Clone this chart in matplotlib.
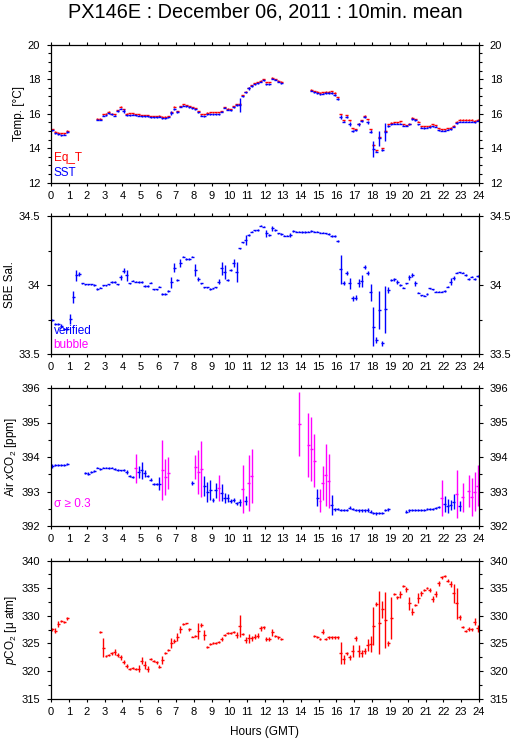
import numpy as np
import matplotlib
matplotlib.use('Agg')
import matplotlib.pyplot as plt
from matplotlib.ticker import MultipleLocator, FuncFormatter

plt.rcParams['font.family'] = ['Liberation Sans', 'DejaVu Sans']
plt.rcParams['mathtext.fontset'] = 'custom'
plt.rcParams['mathtext.rm'] = 'Liberation Sans'
plt.rcParams['mathtext.it'] = 'Liberation Sans:italic'

N = float('nan')

# 10-minute bins over the day (start minute of each bin)
bin_minutes = np.arange(0, 1440, 10)

# ---------------- Temperature ----------------
eq_t = [15.10, 14.95, 14.90, 14.88, 14.88, 15.00,
        N, N, N, N, N, N,
        N, N, N, 15.72, 15.72, 15.96,
        16.00, 16.11, 16.00, 15.96, 16.19, 16.40,
        16.25, 16.00, 16.02, 16.02, 15.98, 15.98,
        15.92, 15.92, 15.92, 15.86, 15.86, 15.86,
        15.88, 15.82, 15.82, 15.86, 16.07, 16.40,
        16.15, 16.44, 16.54, 16.50, 16.44, 16.38,
        16.31, 16.15, 15.98, 15.96, 16.04, 16.08,
        16.08, 16.08, 16.08, 16.15, 16.38, 16.30,
        16.27, 16.42, 16.56, 16.58, 17.08, 17.27,
        17.50, 17.66, 17.76, 17.82, 17.91, 18.00,
        17.82, 17.82, 18.09, 18.00, 17.91, 17.85,
        N, N, N, N, N, N,
        N, N, N, 17.39, 17.31, 17.27,
        17.20, 17.23, 17.27, 17.27, 17.29, 17.20,
        16.95, 15.96, 15.61, 15.90, 15.61, 15.15,
        15.11, 15.42, 15.61, 15.88, 15.67, 15.09,
        14.18, 13.87, 14.63, 14.00, 15.00, 15.38,
        15.46, 15.50, 15.50, 15.55, 15.38, 15.34,
        15.42, 15.77, 15.69, 15.53, 15.28, 15.26,
        15.26, 15.30, 15.38, 15.34, 15.15, 15.11,
        15.09, 15.15, 15.19, 15.30, 15.53, 15.65,
        15.65, 15.65, 15.65, 15.65, 15.59, 15.65]

eq_t_std = [.03, .03, .03, .03, .03, .03,
            0, 0, 0, 0, 0, 0,
            0, 0, 0, .03, .03, .03,
            .03, .03, .03, .03, .03, .04,
            .03, .03, .03, .03, .03, .03,
            .03, .03, .03, .03, .03, .03,
            .03, .03, .03, .03, .04, .04,
            .03, .03, .03, .03, .03, .03,
            .03, .03, .03, .03, .03, .03,
            .03, .03, .03, .03, .03, .03,
            .03, .03, .03, .03, .03, .03,
            .03, .03, .03, .03, .03, .03,
            .03, .03, .03, .03, .03, .03,
            0, 0, 0, 0, 0, 0,
            0, 0, 0, .03, .03, .03,
            .03, .03, .03, .03, .03, .03,
            .03, .04, .03, .04, .03, .03,
            .03, .03, .03, .04, .03, .03,
            .04, .03, .04, .03, .04, .03,
            .03, .03, .03, .03, .03, .03,
            .03, .03, .03, .03, .03, .03,
            .03, .03, .03, .03, .03, .03,
            .03, .03, .03, .03, .03, .03,
            .03, .03, .03, .03, .03, .03]

sst = [15.05, 14.88, 14.80, 14.75, 14.78, 14.95,
       N, N, N, N, N, N,
       N, N, N, 15.65, 15.65, 15.88,
       15.92, 16.02, 15.96, 15.88, 16.15, 16.30,
       16.15, 15.92, 15.92, 15.94, 15.92, 15.88,
       15.84, 15.84, 15.84, 15.79, 15.79, 15.79,
       15.82, 15.73, 15.73, 15.79, 16.04, 16.27,
       16.08, 16.39, 16.46, 16.42, 16.37, 16.31,
       16.25, 16.08, 15.88, 15.86, 15.96, 15.96,
       15.98, 15.98, 15.98, 16.11, 16.34, 16.23,
       16.21, 16.36, 16.50, 16.50, 17.02, 17.23,
       17.47, 17.60, 17.70, 17.76, 17.84, 17.93,
       17.70, 17.70, 18.04, 17.96, 17.84, 17.76,
       N, N, N, N, N, N,
       N, N, N, 17.33, 17.24, 17.18,
       17.12, 17.16, 17.20, 17.20, 17.20, 17.08,
       16.85, 15.80, 15.54, 15.80, 15.40, 15.00,
       15.03, 15.38, 15.57, 15.80, 15.50, 14.95,
       13.95, 13.80, 14.57, 13.90, 14.95, 15.30,
       15.38, 15.42, 15.42, 15.42, 15.30, 15.30,
       15.38, 15.69, 15.63, 15.38, 15.19, 15.17,
       15.19, 15.21, 15.28, 15.25, 15.03, 15.00,
       15.00, 15.07, 15.11, 15.25, 15.46, 15.53,
       15.53, 15.53, 15.53, 15.52, 15.51, 15.59]

sst_std = [.03, .03, .03, .03, .03, .04,
           0, 0, 0, 0, 0, 0,
           0, 0, 0, .03, .03, .03,
           .03, .04, .03, .03, .05, .05,
           .12, .03, .03, .03, .03, .03,
           .03, .03, .03, .03, .03, .03,
           .03, .03, .03, .03, .10, .08,
           .05, .03, .03, .03, .03, .03,
           .03, .03, .03, .03, .03, .03,
           .03, .03, .03, .03, .03, .03,
           .03, .03, .04, .40, .03, .03,
           .10, .05, .03, .03, .03, .03,
           .04, .03, .03, .03, .03, .03,
           0, 0, 0, 0, 0, 0,
           0, 0, 0, .03, .03, .03,
           .03, .03, .03, .03, .03, .04,
           .05, .10, .05, .05, .10, .08,
           .04, .08, .08, .06, .08, .08,
           .47, .04, .45, .05, .52, .05,
           .04, .03, .03, .03, .04, .03,
           .03, .05, .04, .05, .03, .03,
           .03, .03, .03, .03, .03, .03,
           .03, .03, .03, .04, .05, .04,
           .03, .03, .03, .03, .03, .03]

# ---------------- Salinity ----------------
sal = [33.746, 33.717, 33.717, 33.703, 33.681, 33.681,
       33.754, 33.911, 34.072, 34.080, 34.012, 34.005,
       34.005, 34.005, 34.000, 33.971, 33.981, 33.998,
       33.998, 34.005, 34.022, 34.022, 34.005, 34.055,
       34.104, 34.070, 34.012, 34.031, 34.024, 34.022,
       34.022, 33.993, 33.993, 34.017, 33.969, 33.969,
       33.988, 33.935, 33.935, 33.956, 34.019, 34.126,
       34.036, 34.157, 34.205, 34.188, 34.188, 34.205,
       34.109, 34.043, 34.012, 33.983, 33.983, 33.971,
       33.976, 33.983, 34.024, 34.121, 34.097, 34.036,
       34.109, 34.162, 34.092, 34.266, 34.309, 34.326,
       34.362, 34.386, 34.396, 34.399, 34.430, 34.423,
       34.374, 34.362, 34.411, 34.399, 34.374, 34.370,
       34.357, 34.357, 34.362, 34.391, 34.386, 34.386,
       34.384, 34.384, 34.386, 34.391, 34.386, 34.386,
       34.379, 34.379, 34.374, 34.370, 34.355, 34.355,
       34.319, 34.114, 34.012, 34.085, 34.012, 33.903,
       33.908, 34.012, 34.031, 34.133, 34.085, 33.947,
       33.698, 33.601, 33.819, 33.577, 33.824, 33.964,
       34.036, 34.041, 34.024, 34.000, 33.981, 34.012,
       34.055, 34.072, 34.012, 33.944, 33.925, 33.923,
       33.935, 33.976, 33.969, 33.952, 33.952, 33.952,
       33.956, 33.988, 34.024, 34.053, 34.089, 34.092,
       34.089, 34.072, 34.043, 34.060, 34.043, 34.065]

sal_std = [.005, .005, .005, .015, .005, .005,
           .036, .045, .040, .015, .005, .005,
           .005, .005, .005, .005, .005, .005,
           .005, .005, .005, .005, .005, .020,
           .017, .039, .005, .005, .005, .005,
           .005, .005, .005, .005, .005, .005,
           .005, .005, .005, .005, .042, .034,
           .005, .030, .005, .005, .005, .005,
           .042, .015, .005, .005, .005, .005,
           .005, .005, .020, .048, .051, .005,
           .005, .028, .072, .005, .005, .036,
           .005, .005, .005, .005, .005, .005,
           .024, .005, .020, .005, .005, .005,
           .005, .005, .015, .005, .005, .005,
           .005, .005, .005, .005, .005, .005,
           .005, .005, .005, .005, .005, .005,
           .005, .104, .015, .015, .040, .020,
           .020, .030, .043, .015, .015, .060,
           .140, .020, .135, .020, .170, .020,
           .010, .010, .015, .005, .005, .005,
           .020, .015, .020, .005, .005, .005,
           .005, .005, .005, .005, .005, .005,
           .005, .005, .025, .015, .005, .005,
           .005, .005, .005, .005, .005, .005]

# ---------------- Air xCO2 ----------------
xco2 = [393.74, 393.77, 393.77, 393.77, 393.77, 393.80,
        N, N, N, N, N, 393.53,
        393.52, 393.56, 393.59, 393.69, 393.66, 393.69,
        393.69, 393.68, 393.69, 393.65, 393.62, 393.61,
        393.62, 393.56, 393.45, 393.41, 393.68, 393.56,
        393.61, 393.53, 393.45, 393.34, 393.23, 393.21,
        393.23, 393.62, 393.42, 393.53, N, N,
        N, N, N, N, N, 393.24,
        393.70, 393.56, 393.65, 393.16, 392.99, 393.05,
        392.76, 393.03, 393.10, 392.97, 392.82, 392.82,
        392.73, 392.76, 392.66, 392.69, 393.08, 392.73,
        393.24, 393.45, N, N, N, N,
        N, N, N, N, N, N,
        N, N, N, N, N, 394.96,
        N, N, 394.35, 394.24, 393.89, 392.82,
        392.73, 393.24, 393.48, 393.31, 392.61, 392.48,
        392.48, 392.46, 392.46, 392.46, 392.53, 392.48,
        392.46, 392.45, 392.45, 392.45, 392.46, 392.42,
        392.39, 392.37, 392.37, 392.37, 392.46, 392.48,
        N, N, N, N, N, 392.42,
        392.46, 392.46, 392.46, 392.46, 392.46, 392.47,
        392.48, 392.49, 392.49, 392.51, 392.54, 392.80,
        392.64, 392.59, 392.61, 392.71, 392.93, 392.58,
        392.83, N, 393.02, 392.83, 393.00, 393.17]

xco2_std = [.05, .02, .02, .02, .02, .04,
            0, 0, 0, 0, 0, .03,
            .05, .02, .02, .02, .03, .02,
            .02, .02, .02, .02, .02, .02,
            .02, .05, .03, .03, .42, .17,
            .24, .10, .04, .04, .03, .03,
            .19, .86, .51, .47, 0, 0,
            0, 0, 0, 0, 0, .05,
            .35, .64, .82, .29, .28, .29,
            .05, .22, .37, .24, .14, .12,
            .05, .06, .05, .10, .70, .13,
            .81, .78, 0, 0, 0, 0,
            0, 0, 0, 0, 0, 0,
            0, 0, 0, 0, 0, .93,
            0, 0, .92, .93, .77, .25,
            .33, .49, .90, .78, .28, .04,
            .03, .03, .03, .03, .04, .03,
            .03, .03, .03, .03, .05, .03,
            .03, .04, .03, .03, .03, .04,
            0, 0, 0, 0, 0, .03,
            .04, .03, .03, .03, .03, .03,
            .03, .03, .03, .03, .03, .52,
            .24, .20, .15, .21, .70, .15,
            .43, 0, .46, .55, .57, .60]

SIGMA_LIMIT = 0.3

# ---------------- pCO2 ----------------
pco2 = [327.56, 327.32, 328.53, 329.07, 328.95, 329.56,
        N, N, N, N, N, N,
        N, N, N, N, 327.08, 324.24,
        322.73, 322.91, 323.20, 323.50, 322.91, 322.49,
        321.70, 320.92, 320.32, 320.62, 320.32, 320.44,
        321.89, 321.10, 320.38, 322.13, 321.89, 321.58,
        320.80, 322.00, 323.34, 323.80, 325.15, 325.50,
        326.23, 327.56, 328.53, 328.65, 327.56, 326.23,
        326.35, 327.26, 328.35, 326.54, 324.42, 324.85,
        325.03, 325.15, 325.27, 325.80, 326.47, 326.84,
        326.96, 327.14, 326.54, 328.17, 326.72, 325.63,
        325.93, 325.93, 326.23, 326.42, 327.74, 327.90,
        325.80, 325.80, 327.00, 326.36, 326.10, 325.76,
        N, N, N, N, N, N,
        N, N, N, N, 326.36, 326.24,
        325.80, 327.14, 325.80, 326.10, 326.10, 326.10,
        326.10, 323.20, 322.13, 323.20, 322.49, 323.64,
        325.94, 323.64, 323.20, 323.64, 324.73, 324.90,
        328.17, 332.16, 328.77, 331.20, 329.26, 325.03,
        329.56, 333.97, 333.36, 333.90, 335.42, 334.81,
        332.28, 330.77, 331.97, 333.18, 334.09, 334.69,
        335.10, 334.69, 333.06, 333.97, 335.90, 336.99,
        337.23, 336.38, 335.78, 334.09, 332.28, 329.74,
        327.93, 327.26, 327.62, 327.56, 328.95, 327.74]

pco2_std = [.25, .5, .5, .2, .2, .3,
            0, 0, 0, 0, 0, 0,
            0, 0, 0, 0, .2, 1.7,
            .2, .2, .2, .5, .4, .4,
            .4, .4, .2, .2, .2, .66,
            .6, .8, .6, .2, .2, .3,
            .3, .8, .2, .2, .9, .4,
            .7, .7, .2, .1, .3, .1,
            .2, 1.4, .4, .9, .2, .2,
            .2, .2, .2, .3, .2, .2,
            .2, .2, .6, 2.0, .2, .6,
            .85, .5, .5, .45, .4, .3,
            .3, .3, .7, .2, .2, .2,
            0, 0, 0, 0, 0, 0,
            0, 0, 0, 0, .2, .2,
            .2, .5, .2, .2, .2, .2,
            .2, 2.0, .8, .3, .45, 1.05,
            .4, 1.15, .7, .5, 1.05, 1.4,
            3.45, .4, 5.7, 1.5, 5.1, .4,
            3.8, .2, .3, .6, .2, .5,
            1.2, .6, .2, .9, .4, .2,
            .2, .3, .5, .5, .4, .3,
            .2, .3, .5, 1.75, 2.8, .4,
            .2, .15, .4, .3, .6, .6]

RED = '#ff0000'
BLUE = '#0000ff'
MAGENTA = '#ff00ff'

t_hours = (bin_minutes + 5) / 60.0
half_bin = 5 / 60.0


def draw(ax, vals, std, color, mask=None):
    v = np.asarray(vals, float)
    s = np.asarray(std, float)
    m = ~np.isnan(v)
    if mask is not None:
        m &= mask
    ax.errorbar(t_hours[m], v[m], xerr=half_bin, yerr=s[m], fmt='none',
                ecolor=color, elinewidth=1.0, capsize=0)


fig = plt.figure(figsize=(5.15, 7.39), dpi=100)
left, width, height = 51 / 515, 428 / 515, 138 / 739
bottoms = [1 - 182.7 / 739, 1 - 354 / 739, 1 - 526 / 739, 1 - 698.7 / 739]
axes = [fig.add_axes([left, b, width, height]) for b in bottoms]

fmt = FuncFormatter(lambda v, p: f'{v:g}')
specs = [((12, 20), 2, 0.5), ((33.5, 34.5), 0.5, 0.25), ((392, 396), 1, 0.5), ((315, 340), 5, 2.5)]
for ax, (yl, maj, mnr) in zip(axes, specs):
    ax.set_xlim(0, 24)
    ax.set_ylim(*yl)
    ax.xaxis.set_major_locator(MultipleLocator(1))
    ax.yaxis.set_major_locator(MultipleLocator(maj))
    ax.yaxis.set_minor_locator(MultipleLocator(mnr))
    ax.yaxis.set_major_formatter(fmt)
    ax.tick_params(axis='x', which='major', top=True, bottom=True, direction='out',
                   length=2.3, width=0.8, labelsize=8, pad=3.5)
    ax.tick_params(axis='y', which='major', left=True, right=True, labelright=True,
                   direction='out', length=3.2, width=0.8, labelsize=8, pad=4.5)
    ax.tick_params(axis='y', which='minor', left=True, right=True, direction='out',
                   length=2, width=0.8)
    for sp in ax.spines.values():
        sp.set_linewidth(0.9)

fig.text(265 / 515, 1 - 12 / 739, 'PX146E : December 06, 2011 : 10min. mean',
         fontsize=14.3, ha='center', va='center')

# Panel 1
ax = axes[0]
draw(ax, eq_t, eq_t_std, RED)
draw(ax, sst, sst_std, BLUE)
ax.set_ylabel('Temp. [°C]', fontsize=8.5, labelpad=2)
ax.text(0.006, 0.18, 'Eq_T', color=RED, fontsize=8.5, transform=ax.transAxes, va='center')
ax.text(0.006, 0.07, 'SST', color=BLUE, fontsize=8.5, transform=ax.transAxes, va='center')

# Panel 2
ax = axes[1]
draw(ax, sal, sal_std, BLUE)
ax.set_ylabel('SBE Sal.', fontsize=8.5, labelpad=2)
ax.text(0.006, 0.165, 'verified', color=BLUE, fontsize=8.5, transform=ax.transAxes, va='center')
ax.text(0.006, 0.065, 'bubble', color=MAGENTA, fontsize=8.5, transform=ax.transAxes, va='center')

# Panel 3
ax = axes[2]
xs = np.asarray(xco2_std, float)
draw(ax, xco2, xco2_std, BLUE, mask=xs < SIGMA_LIMIT)
draw(ax, xco2, xco2_std, MAGENTA, mask=xs >= SIGMA_LIMIT)
ax.set_ylabel(r'Air $\it{x}$CO$_2$ [ppm]', fontsize=8.5, labelpad=2)
ax.text(0.006, 0.157, 'σ ≥ 0.3', color=MAGENTA, fontsize=8.5, transform=ax.transAxes, va='center')

# Panel 4
ax = axes[3]
draw(ax, pco2, pco2_std, RED)
ax.set_ylabel(r'$\it{p}$CO$_2$ [μ atm]', fontsize=8.5, labelpad=2)
ax.set_xlabel('Hours (GMT)', fontsize=8.5, labelpad=7)

fig.savefig('out.png', dpi=100)
